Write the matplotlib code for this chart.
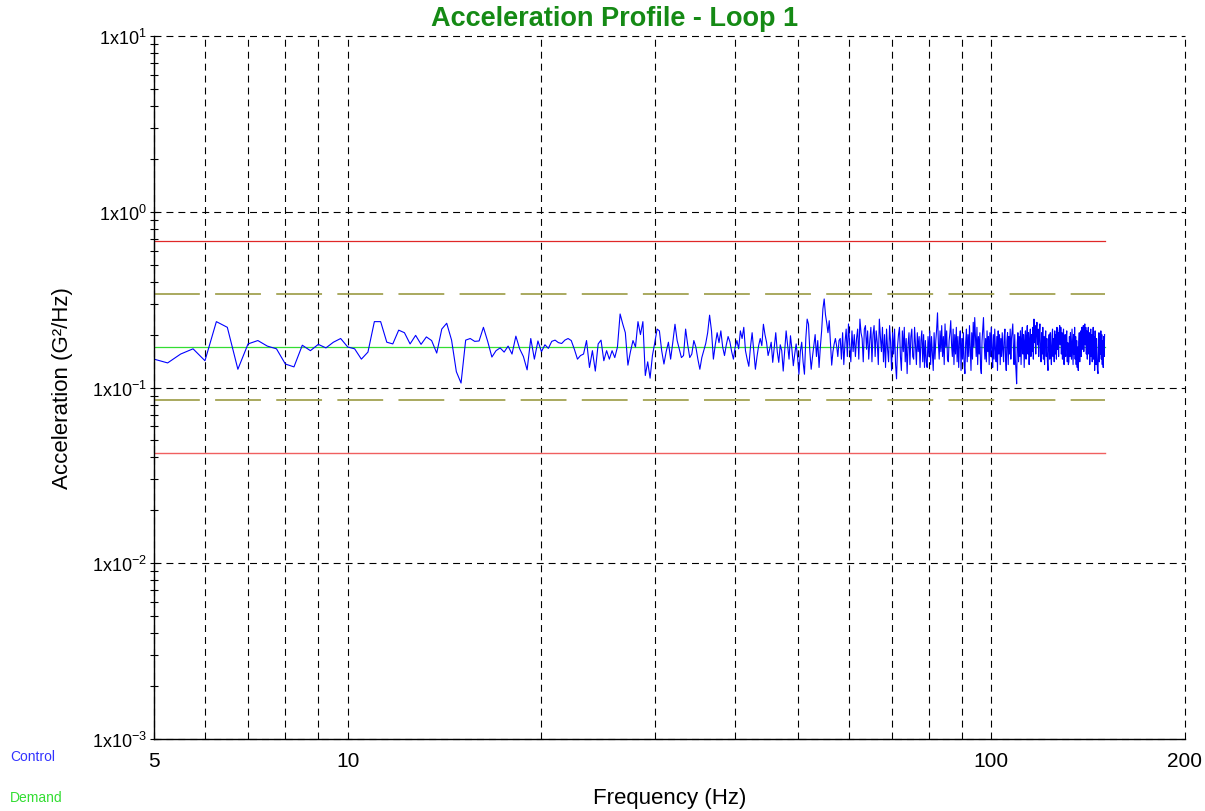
import numpy as np
import matplotlib
matplotlib.use("Agg")
import matplotlib.pyplot as plt
from matplotlib.ticker import FixedLocator, FuncFormatter, NullFormatter

plt.rcParams['font.family'] = ['Liberation Sans', 'DejaVu Sans']
plt.rcParams['mathtext.fontset'] = 'custom'
plt.rcParams['mathtext.rm'] = 'Liberation Sans'
plt.rcParams['mathtext.it'] = 'Liberation Sans'
plt.rcParams['mathtext.default'] = 'regular'
plt.rcParams['lines.scale_dashes'] = False

# ---------------- data ----------------
TITLE = "Acceleration Profile - Loop 1"
X_LABEL = "Frequency (Hz)"
Y_LABEL = "Acceleration (G²/Hz)"
LEGEND_LABELS = ["Control", "Demand"]

FREQ_START = 5.0      # Hz
FREQ_STEP = 0.25      # Hz, spectral line spacing

# control PSD, 5.00 .. 21.50 Hz
control_low = [0.145, 0.138, 0.155, 0.166, 0.142, 0.237, 0.220, 0.127, 0.177, 0.185,
               0.172, 0.166, 0.136, 0.131, 0.174, 0.162, 0.176, 0.168, 0.181, 0.190,
               0.170,
               0.166, 0.145, 0.159, 0.237, 0.237, 0.181, 0.177, 0.212, 0.205, 0.177,
               0.198, 0.176, 0.194, 0.185, 0.157, 0.215, 0.232, 0.186, 0.123, 0.106,
               0.186, 0.190, 0.183, 0.184, 0.220, 0.183, 0.149, 0.162, 0.168, 0.159,
               0.172, 0.155, 0.196, 0.166, 0.150, 0.126, 0.190, 0.145, 0.184, 0.160,
               0.175, 0.167, 0.183, 0.186, 0.180, 0.178]
# 21.75 .. 26.25 Hz
control_mid1 = [0.186, 0.190, 0.185, 0.165, 0.145, 0.152, 0.155, 0.185, 0.130, 0.162,
                0.124, 0.177, 0.186, 0.142, 0.162, 0.145, 0.162, 0.148, 0.170]
# 26.50 .. 37.25 Hz
control_mid2 = [0.262, 0.230, 0.205, 0.134, 0.160, 0.185, 0.170, 0.237, 0.200, 0.237,
                0.117, 0.140, 0.113, 0.152, 0.180, 0.215, 0.210, 0.162, 0.136, 0.160,
                0.181, 0.145, 0.181, 0.229, 0.185, 0.165, 0.148, 0.152, 0.215, 0.175,
                0.148, 0.155, 0.185, 0.170, 0.145, 0.127, 0.148, 0.162, 0.178, 0.205,
                0.258, 0.210, 0.145, 0.175]
# 37.50 .. 58.00 Hz
control_mid3 = [0.205, 0.180, 0.210, 0.170, 0.152, 0.175, 0.195, 0.182, 0.160, 0.145,
                0.170, 0.185, 0.166, 0.210, 0.190, 0.220, 0.162, 0.145, 0.132, 0.170,
                0.205, 0.160, 0.127, 0.150, 0.173, 0.190, 0.173, 0.229, 0.200, 0.181,
                0.152, 0.165, 0.181, 0.139, 0.170, 0.205, 0.160, 0.139, 0.175, 0.162,
                0.124, 0.160, 0.210, 0.175, 0.145, 0.197, 0.165, 0.133, 0.155, 0.177,
                0.150, 0.119, 0.160, 0.181, 0.140, 0.119, 0.190, 0.245, 0.229, 0.160,
                0.127, 0.150, 0.173, 0.200, 0.150, 0.185, 0.130, 0.170, 0.210, 0.280,
                0.319, 0.260, 0.233, 0.205, 0.240, 0.180, 0.134, 0.160, 0.177, 0.190,
                0.173, 0.150, 0.185]
# 58.25 .. 150.00 Hz
control_high = [0.190, 0.145, 0.205, 0.135, 0.180, 0.215, 0.150, 0.230, 0.175, 0.140,
                0.210, 0.160, 0.200, 0.150, 0.190, 0.215, 0.145, 0.245, 0.205, 0.190,
                0.140, 0.215, 0.225, 0.165, 0.210, 0.145, 0.185, 0.220, 0.140, 0.200,
                0.225, 0.150, 0.210, 0.180, 0.135, 0.245, 0.195, 0.160, 0.220, 0.140,
                0.200, 0.130, 0.215, 0.165, 0.140, 0.225, 0.180, 0.125, 0.205, 0.155,
                0.215, 0.135, 0.112, 0.170, 0.200, 0.220, 0.150, 0.125, 0.210, 0.160,
                0.220, 0.140, 0.190, 0.120, 0.175, 0.205, 0.135, 0.195, 0.215, 0.150,
                0.145, 0.220, 0.175, 0.135, 0.205, 0.160, 0.195, 0.130, 0.185, 0.210,
                0.140, 0.200, 0.130, 0.185, 0.140, 0.130, 0.195, 0.150, 0.210, 0.135,
                0.195, 0.155, 0.125, 0.205, 0.145, 0.185, 0.215, 0.266, 0.180, 0.145,
                0.210, 0.160, 0.225, 0.150, 0.195, 0.135, 0.230, 0.170, 0.210, 0.145,
                0.140, 0.185, 0.205, 0.240, 0.175, 0.150, 0.215, 0.135, 0.200, 0.155,
                0.220, 0.140, 0.195, 0.130, 0.185, 0.210, 0.125, 0.190, 0.145, 0.205,
                0.135, 0.120, 0.180, 0.215, 0.140, 0.200, 0.150, 0.225, 0.165, 0.125,
                0.205, 0.145, 0.235, 0.170, 0.250, 0.195, 0.150, 0.220, 0.135, 0.195,
                0.155, 0.205, 0.130, 0.120, 0.185, 0.215, 0.250, 0.180, 0.145, 0.190,
                0.140, 0.210, 0.160, 0.195, 0.135, 0.205, 0.150, 0.220, 0.165, 0.130,
                0.200, 0.145, 0.215, 0.165, 0.140, 0.195, 0.125, 0.210, 0.155, 0.200,
                0.135, 0.190, 0.150, 0.205, 0.165, 0.140, 0.195, 0.215, 0.145, 0.125,
                0.185, 0.205, 0.135, 0.195, 0.155, 0.215, 0.145, 0.190, 0.210, 0.230,
                0.165, 0.135, 0.200, 0.145, 0.125, 0.105, 0.180, 0.205, 0.140, 0.195,
                0.150, 0.210, 0.135, 0.190, 0.220, 0.155, 0.200, 0.130, 0.185, 0.210,
                0.145, 0.195, 0.225, 0.155, 0.205, 0.135, 0.190, 0.215, 0.150, 0.200,
                0.160, 0.220, 0.145, 0.245, 0.180, 0.225, 0.155, 0.210, 0.235, 0.175,
                0.215, 0.150, 0.200, 0.230, 0.160, 0.140, 0.205, 0.155, 0.220, 0.145,
                0.195, 0.135, 0.185, 0.210, 0.150, 0.190, 0.140, 0.125, 0.180, 0.200,
                0.145, 0.205, 0.160, 0.135, 0.195, 0.215, 0.150, 0.190, 0.140, 0.210,
                0.155, 0.200, 0.145, 0.220, 0.165, 0.205, 0.150, 0.210, 0.225, 0.175,
                0.220, 0.155, 0.205, 0.145, 0.195, 0.215, 0.135, 0.185, 0.200, 0.150,
                0.190, 0.210, 0.140, 0.180, 0.135, 0.140, 0.195, 0.150, 0.205, 0.160,
                0.145, 0.215, 0.170, 0.135, 0.200, 0.155, 0.220, 0.145, 0.195, 0.135,
                0.185, 0.130, 0.170, 0.125, 0.180, 0.205, 0.140, 0.195, 0.210, 0.150,
                0.220, 0.165, 0.205, 0.225, 0.160, 0.215, 0.230, 0.175, 0.220, 0.155,
                0.210, 0.145, 0.195, 0.220, 0.155, 0.205, 0.135, 0.190, 0.215, 0.150,
                0.200, 0.140, 0.185, 0.220, 0.145, 0.195, 0.125, 0.210, 0.155, 0.135,
                0.190, 0.145, 0.125, 0.120, 0.175, 0.205, 0.140, 0.195, 0.155, 0.210,
                0.145, 0.200, 0.135, 0.185, 0.130, 0.195, 0.150, 0.200]

demand_level = 0.17
alarm_high = 0.34
alarm_low = 0.085
abort_high = 0.68
abort_low = 0.0425

x_major_ticks = [5, 10, 100, 200]
x_major_labels = ["5", "10", "100", "200"]
x_grid_minor = [6, 7, 8, 9, 20, 30, 40, 50, 60, 70, 80, 90]
y_decades = [1e-3, 1e-2, 1e-1, 1e0, 1e1]

# ---------------- plot ----------------
control = np.array(control_low + control_mid1 + control_mid2 + control_mid3 + control_high)
freq = FREQ_START + FREQ_STEP * np.arange(len(control))
f_span = [freq[0], freq[-1]]

W, H = 1205, 812
fig = plt.figure(figsize=(W / 100, H / 100), dpi=100)
ax = fig.add_axes([154 / W, 1 - 740 / H, (1185 - 154) / W, (740 - 37) / H])
ax.set_xscale('log')
ax.set_yscale('log')
ax.set_xlim(5, 200)
ax.set_ylim(1e-3, 1e1)

grid_kw = dict(color='black', lw=0.8, ls=(0, (5, 3.6)))
ax.xaxis.set_major_locator(FixedLocator(x_major_ticks))
ax.xaxis.set_major_formatter(FuncFormatter(
    lambda v, p: x_major_labels[x_major_ticks.index(int(round(v)))] if int(round(v)) in x_major_ticks else ""))
ax.xaxis.set_minor_locator(FixedLocator(x_grid_minor))
ax.xaxis.set_minor_formatter(NullFormatter())
ax.yaxis.set_major_locator(FixedLocator(y_decades))
ax.yaxis.set_major_formatter(FuncFormatter(lambda v, p: r'$1x10^{%d}$' % int(round(np.log10(v)))))
ax.yaxis.set_minor_locator(FixedLocator([m * d for d in y_decades[:-1] for m in range(2, 10)]))
ax.yaxis.set_minor_formatter(NullFormatter())

ax.grid(True, axis='x', which='both', **grid_kw)
ax.grid(True, axis='y', which='major', **grid_kw)
for gl in ax.get_xgridlines() + ax.get_ygridlines():
    gl.set_clip_on(False)
ax.set_axisbelow(True)

ax.tick_params(axis='x', which='both', length=0, pad=9, labelsize=15)
ax.tick_params(axis='y', which='both', direction='inout', length=6, width=0.8, pad=2, labelsize=13)

for s in ['top', 'right']:
    ax.spines[s].set_visible(False)
for s in ['left', 'bottom']:
    ax.spines[s].set_color('black')
    ax.spines[s].set_linewidth(1.0)
    ax.spines[s].set_zorder(6)

ax.plot(f_span, [abort_high] * 2, color='#e02828', lw=0.9, zorder=3)
ax.plot(f_span, [abort_low] * 2, color='#f06060', lw=1.0, zorder=3)
ax.plot(f_span, [alarm_high] * 2, color='#a3a352', lw=1.3, ls=(0, (33, 11)), zorder=3)
ax.plot(f_span, [alarm_low] * 2, color='#a3a352', lw=1.3, ls=(0, (33, 11)), zorder=3)
ax.plot(f_span, [demand_level] * 2, color='#33dd33', lw=0.9, zorder=4)
ax.plot(freq, control, color='#0000ff', lw=0.8, zorder=5)

ax.set_xlabel(X_LABEL, fontsize=16, labelpad=12)
ax.set_ylabel(Y_LABEL, fontsize=16, labelpad=14)

fig.text(615 / W, 1 - 19 / H, TITLE, ha='center', va='center', fontsize=19.5,
         fontweight='bold', color='#158a15')
fig.text(10 / W, 1 - 757 / H, LEGEND_LABELS[0], ha='left', va='center', fontsize=10, color='#3333ff')
fig.text(10 / W, 1 - 798 / H, LEGEND_LABELS[1], ha='left', va='center', fontsize=10, color='#33dd33')

fig.savefig('out.png', dpi=100)
